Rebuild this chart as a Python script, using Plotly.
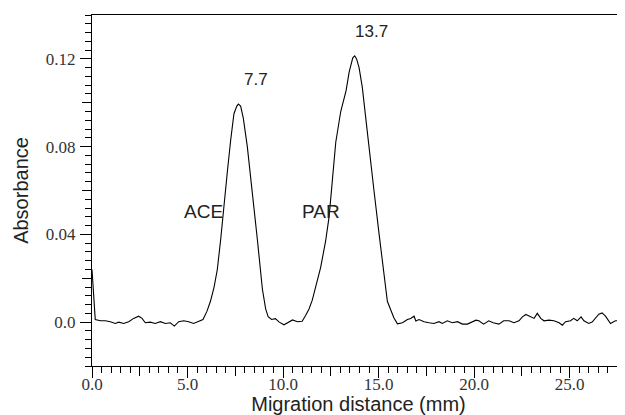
import plotly.graph_objects as go

# ---- data ----
distance_mm = [
    0.00, 0.08, 0.17, 0.44, 0.70, 0.96, 1.22, 1.40, 1.66, 1.92,
    2.18, 2.44, 2.62, 2.79, 3.05, 3.31, 3.58, 3.84, 4.10, 4.31,
    4.54, 4.80, 5.06, 5.32, 5.59, 5.81, 6.02, 6.20, 6.39, 6.56,
    6.74, 6.91, 7.09, 7.26, 7.43, 7.58, 7.66, 7.78, 7.92, 8.13,
    8.39, 8.66, 8.92, 9.09, 9.22, 9.40, 9.60, 9.80, 10.05, 10.30,
    10.50, 10.75, 11.00, 11.18, 11.36, 11.53, 11.71, 11.97, 12.23, 12.41,
    12.58, 12.76, 13.02, 13.19, 13.30, 13.46, 13.65, 13.75, 13.85, 13.98, 14.15,
    14.33, 14.54, 14.76, 15.03, 15.29, 15.46, 15.64, 15.80, 15.99, 16.25,
    16.51, 16.68, 16.86, 16.95, 17.12, 17.38, 17.64, 17.90, 18.16, 18.34,
    18.60, 18.86, 19.13, 19.39, 19.65, 19.90, 20.10, 20.25, 20.50, 20.77,
    21.00, 21.30, 21.55, 21.83, 22.09, 22.35, 22.53, 22.71, 22.96, 23.14,
    23.31, 23.49, 23.66, 23.92, 24.18, 24.45, 24.62, 24.79, 25.05, 25.22,
    25.40, 25.60, 25.75, 26.00, 26.18, 26.35, 26.53, 26.70, 26.88, 27.14,
    27.40, 27.66, 27.83,
]
absorbance = [
    0.0240, 0.0150, 0.0012, 0.0006, 0.0006, 0.0002, -0.0006, 0.0000, -0.0006, 0.0002,
    0.0017, 0.0027, 0.0017, -0.0003, 0.0000, -0.0006, 0.0002, -0.0006, -0.0003, -0.0018,
    0.0002, 0.0006, 0.0002, -0.0006, 0.0006, 0.0012, 0.0050, 0.0095, 0.0160, 0.0240,
    0.0380, 0.0540, 0.0690, 0.0830, 0.0950, 0.0985, 0.0994, 0.0985, 0.0930, 0.0800,
    0.0600, 0.0373, 0.0150, 0.0060, 0.0025, 0.0012, 0.0016, 0.0000, -0.0012, 0.0000,
    0.0010, 0.0002, 0.0004, 0.0030, 0.0060, 0.0100, 0.0160, 0.0250, 0.0370, 0.0480,
    0.0645, 0.0820, 0.0960, 0.1020, 0.1055, 0.1140, 0.1205, 0.1214, 0.1200, 0.1160, 0.1070,
    0.0930, 0.0780, 0.0600, 0.0400, 0.0200, 0.0095, 0.0055, 0.0020, -0.0008, -0.0003,
    0.0012, 0.0017, 0.0027, 0.0005, 0.0012, 0.0002, -0.0003, -0.0006, 0.0002, -0.0006,
    0.0006, -0.0003, 0.0002, -0.0009, -0.0009, 0.0002, 0.0009, 0.0006, -0.0009, 0.0006,
    -0.0003, -0.0009, 0.0006, 0.0006, -0.0003, 0.0006, 0.0024, 0.0035, 0.0024, 0.0017,
    0.0040, 0.0017, 0.0006, 0.0009, 0.0006, -0.0003, -0.0014, 0.0002, 0.0006, 0.0017,
    0.0006, 0.0024, 0.0006, -0.0006, 0.0000, 0.0020, 0.0036, 0.0042, 0.0027, -0.0006,
    0.0006, 0.0006, 0.0000,
]

peak_labels = ["7.7", "13.7"]
peak_label_x = [8.59, 14.62]
peak_label_y = [0.1108, 0.1324]

compound_labels = ["ACE", "PAR"]
compound_label_x = [5.86, 11.99]
compound_label_y = [0.0505, 0.0505]

x_range = [0, 27.9]
y_range = [-0.02, 0.14]
x_major = [0, 5, 10, 15, 20, 25]
x_major_text = ["0.0", "5.0", "10.0", "15.0", "20.0", "25.0"]
x_medium = [2.5, 7.5, 12.5, 17.5, 22.5, 27.5]
y_major = [0, 0.04, 0.08, 0.12]
y_major_text = ["0.0", "0.04", "0.08", "0.12"]
y_medium = [0.02, 0.06, 0.10]

SERIF = "Liberation Serif, Times New Roman, serif"
SANS = "Liberation Sans, Arial, sans-serif"

fig = go.Figure()
fig.add_trace(go.Scatter(
    x=distance_mm, y=absorbance, mode="lines",
    line=dict(color="black", width=1.1), showlegend=False,
))
# empty trace holding the overlay axes used for medium-length ticks
fig.add_trace(go.Scatter(x=[None], y=[None], xaxis="x2", yaxis="y2",
                         mode="lines", showlegend=False, hoverinfo="skip"))

for txt, xv, yv in zip(peak_labels, peak_label_x, peak_label_y):
    fig.add_annotation(x=xv, y=yv, text=txt, showarrow=False,
                       font=dict(family=SANS, size=17, color="#222"))
for txt, xv, yv in zip(compound_labels, compound_label_x, compound_label_y):
    fig.add_annotation(x=xv, y=yv, text=txt, showarrow=False,
                       font=dict(family=SANS, size=19, color="#222"))

common = dict(showgrid=False, zeroline=False, tickcolor="black", tickwidth=1,
              automargin=False)

# the page body keeps its default 8px margin, so the figure is 8px smaller
fig.update_layout(
    width=617, height=407,
    margin=dict(l=84, r=0, t=7, b=49, autoexpand=False),
    paper_bgcolor="white", plot_bgcolor="white",
    xaxis=dict(
        range=x_range, showline=True, linecolor="black", linewidth=1,
        mirror=True, ticks="outside", ticklen=11,
        tickvals=x_major, ticktext=x_major_text,
        tickfont=dict(family=SERIF, size=17, color="#333"),
        ticklabelstandoff=-8,
        minor=dict(dtick=0.5, tick0=0, ticks="outside", ticklen=6,
                   tickcolor="black", tickwidth=1, showgrid=False),
        title=dict(text="Migration distance (mm)", standoff=3,
                   font=dict(family=SANS, size=20, color="#222")),
        **common,
    ),
    yaxis=dict(
        range=y_range, showline=True, linecolor="black", linewidth=1,
        ticks="outside", ticklen=11,
        tickvals=y_major, ticktext=y_major_text,
        tickfont=dict(family=SERIF, size=17, color="#333"),
        ticklabelstandoff=1,
        minor=dict(dtick=0.004, tick0=0, ticks="outside", ticklen=6,
                   tickcolor="black", tickwidth=1, showgrid=False),
        title=dict(text="Absorbance", standoff=11,
                   font=dict(family=SANS, size=20, color="#222")),
        **common,
    ),
    xaxis2=dict(range=x_range, overlaying="x", anchor="y2", side="bottom",
                ticks="outside", ticklen=9, tickvals=x_medium,
                showticklabels=False, showline=False, **common),
    yaxis2=dict(range=y_range, overlaying="y", anchor="x2", side="left",
                ticks="outside", ticklen=9, tickvals=y_medium,
                showticklabels=False, showline=False, **common),
)

fig.write_html("out.html")
